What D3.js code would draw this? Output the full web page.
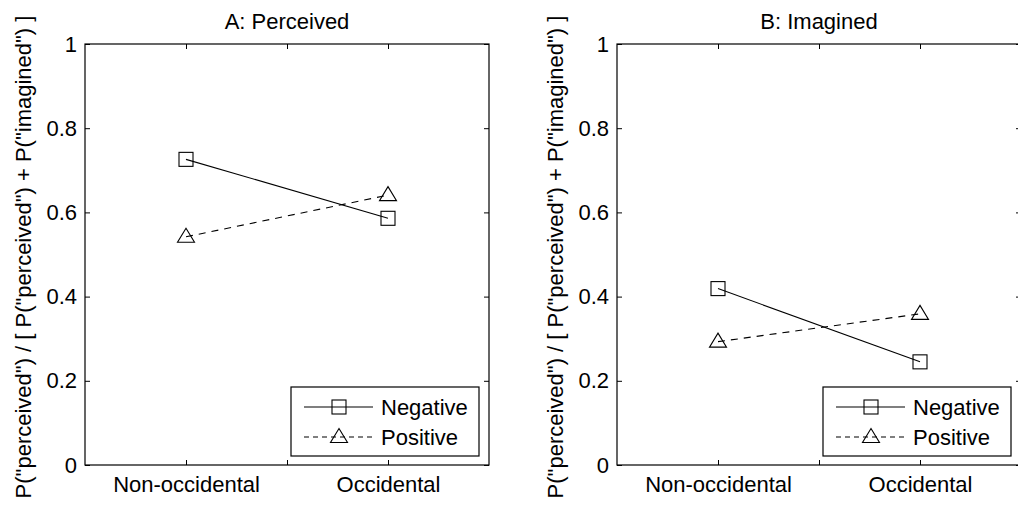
<!DOCTYPE html>
<html>
<head>
<meta charset="utf-8">
<script src="https://cdn.jsdelivr.net/npm/d3@7"></script>
<style>
  body { margin: 0; background: #fff; }
  svg { display: block; font-family: "Liberation Sans", Arial, sans-serif; }
</style>
</head>
<body>
<svg id="chart" width="1018" height="509"></svg>
<script>
// data
const categories = ['Non-occidental', 'Occidental'];
const panelTitles = ['A: Perceived', 'B: Imagined'];
const seriesNames = ['Negative', 'Positive'];
const perceivedNegative = [0.726, 0.586];
const perceivedPositive = [0.542, 0.641];
const imaginedNegative = [0.419, 0.245];
const imaginedPositive = [0.293, 0.359];
const yTicks = [0, 0.2, 0.4, 0.6, 0.8, 1];
const yLabel = 'P("perceived") / [ P("perceived") + P("imagined") ]';

const panels = [
  { title: panelTitles[0], left: 85, series: [perceivedNegative, perceivedPositive] },
  { title: panelTitles[1], left: 617, series: [imaginedNegative, imaginedPositive] }
];

const svg = d3.select('#chart');
const plotW = 404;
const plotTop = 44;
const plotBottom = 465;
const fontSize = 22;

const y = d3.scaleLinear().domain([0, 1]).range([plotBottom, plotTop]);

// square / triangle markers
function drawMarker(g, kind, cx, cy) {
  if (kind === 0) {
    g.append('rect')
      .attr('x', cx - 7).attr('y', cy - 7)
      .attr('width', 14).attr('height', 14)
      .attr('fill', 'none').attr('stroke', '#000').attr('stroke-width', 1.1);
  } else {
    g.append('path')
      .attr('d', `M${cx},${cy - 8.5}L${cx + 8.5},${cy + 5.5}L${cx - 8.5},${cy + 5.5}Z`)
      .attr('fill', 'none').attr('stroke', '#000').attr('stroke-width', 1.1);
  }
}

panels.forEach((p) => {
  const x = d3.scaleLinear().domain([0.5, 2.5]).range([p.left, p.left + plotW]);
  const g = svg.append('g');

  // plot box
  g.append('rect')
    .attr('x', p.left).attr('y', plotTop)
    .attr('width', plotW).attr('height', plotBottom - plotTop)
    .attr('fill', 'none').attr('stroke', '#000').attr('stroke-width', 1.2);

  const xTickFmt = (d) => (d === 1 ? categories[0] : d === 2 ? categories[1] : '');

  // inward ticks on all four sides
  const axes = [
    [d3.axisLeft(y).tickValues(yTicks).tickFormat(d3.format('')), `translate(${p.left},0)`, 8],
    [d3.axisRight(y).tickValues(yTicks).tickFormat(''), `translate(${p.left + plotW},0)`, 8],
    [d3.axisBottom(x).tickValues([1, 1.5, 2]).tickFormat(xTickFmt), `translate(0,${plotBottom})`, 11],
    [d3.axisTop(x).tickValues([1, 1.5, 2]).tickFormat(''), `translate(0,${plotTop})`, 8]
  ];
  axes.forEach(([ax, tr, pad]) => {
    const a = g.append('g').attr('transform', tr)
      .call(ax.tickSizeInner(-5).tickSizeOuter(0).tickPadding(pad));
    a.select('.domain').remove();
    a.selectAll('line').attr('stroke', '#000');
    a.selectAll('text')
      .attr('font-size', fontSize)
      .attr('font-family', '"Liberation Sans", Arial, sans-serif')
      .attr('fill', '#000');
  });

  // title
  g.append('text')
    .attr('x', p.left + plotW / 2).attr('y', 29)
    .attr('text-anchor', 'middle')
    .attr('font-size', 22)
    .text(p.title);

  // y label
  g.append('text')
    .attr('transform', `translate(${p.left - 54},257) rotate(-90)`)
    .attr('text-anchor', 'middle')
    .attr('font-size', fontSize)
    .text(yLabel);

  // series
  p.series.forEach((vals, si) => {
    const line = d3.line().x((d, i) => x(i + 1)).y((d) => y(d));
    g.append('path')
      .attr('d', line(vals))
      .attr('fill', 'none').attr('stroke', '#000').attr('stroke-width', 1.1)
      .attr('stroke-dasharray', si === 1 ? '7,6' : null);
    vals.forEach((v, i) => drawMarker(g, si, x(i + 1), y(v)));
  });

  // legend
  const lx = p.left + 206;
  const ly = 387;
  const leg = g.append('g');
  leg.append('rect')
    .attr('x', lx).attr('y', ly).attr('width', 188).attr('height', 69)
    .attr('fill', '#fff').attr('stroke', '#000').attr('stroke-width', 1.2);
  seriesNames.forEach((name, si) => {
    const rowY = ly + 20 + si * 30;
    leg.append('line')
      .attr('x1', lx + 13).attr('x2', lx + 82)
      .attr('y1', rowY).attr('y2', rowY)
      .attr('stroke', '#000').attr('stroke-width', 1.1)
      .attr('stroke-dasharray', si === 1 ? '5,4' : null);
    drawMarker(leg, si, lx + 48, rowY);
    leg.append('text')
      .attr('x', lx + 90).attr('y', rowY + 8)
      .attr('font-size', fontSize)
      .text(name);
  });
});
</script>
</body>
</html>
